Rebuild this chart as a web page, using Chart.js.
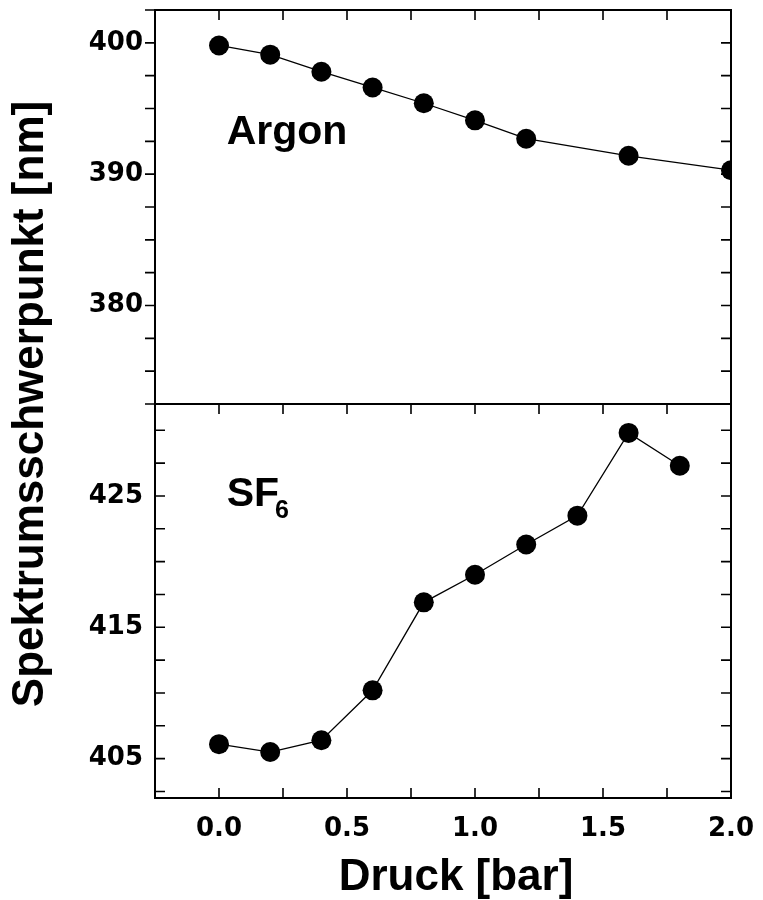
<!DOCTYPE html>
<html lang="de">
<head>
<meta charset="utf-8">
<title>Spektrumsschwerpunkt</title>
<script src="https://cdn.jsdelivr.net/npm/chart.js@4.4.0/dist/chart.umd.min.js"></script>
<style>
  html, body { margin: 0; padding: 0; background: #fff; }
  #wrap { width: 763px; height: 900px; }
</style>
</head>
<body>
<div id="wrap"><canvas id="chartCanvas" width="763" height="900"></canvas></div>
<script>
// Messwerte: Druck in bar, Schwerpunkt in nm
const druckArgon = [0.0, 0.2, 0.4, 0.6, 0.8, 1.0, 1.2, 1.6, 2.0];
const schwerpunktArgon = [399.8, 399.1, 397.8, 396.6, 395.4, 394.1, 392.7, 391.4, 390.3];

const druckSF6 = [0.0, 0.2, 0.4, 0.6, 0.8, 1.0, 1.2, 1.4, 1.6, 1.8];
const schwerpunktSF6 = [406.1, 405.5, 406.4, 410.2, 416.9, 419.0, 421.3, 423.5, 429.8, 427.3];

// beschriftete Achsenwerte
const druckTicks = [0.0, 0.5, 1.0, 1.5, 2.0];
const argonTicks = [380, 390, 400];
const sf6Ticks = [405, 415, 425];

const schrift = "'Liberation Sans', Arial, Helvetica, sans-serif";
const zahlenSchrift = "'DejaVu Sans', 'Liberation Sans', sans-serif";

// Teilstriche in festen Schritten (auch unbeschriftete)
function teilung(von, bis, schritt) {
    const werte = [];
    const n = Math.round((bis - von) / schritt);
    for (let i = 0; i <= n; i++) werte.push(von + i * schritt);
    return werte;
}

// y-Achsen: feste Breite, kein Überstand der Randbeschriftung
function yBreite(s) {
    s.width = 155;
    s.paddingTop = 0;
    s.paddingBottom = 0;
}

// Rahmen und nach innen/außen zeigende Teilstriche
const rahmen = {
    id: 'rahmen',
    afterDraw(chart) {
        const { ctx, chartArea, scales } = chart;
        const L = chartArea.left, R = chartArea.right;
        const oben = scales.yTop, unten = scales.yBottom, x = scales.x;
        const len = 10;
        ctx.save();
        ctx.strokeStyle = '#000';
        ctx.lineWidth = 1.6;
        ctx.beginPath();
        x.ticks.forEach(t => {
            const px = x.getPixelForValue(t.value);
            ctx.moveTo(px, oben.top); ctx.lineTo(px, oben.top + len);
            ctx.moveTo(px, unten.top); ctx.lineTo(px, unten.top + len);
            ctx.moveTo(px, unten.bottom); ctx.lineTo(px, unten.bottom - len);
        });
        oben.ticks.forEach(t => {
            const py = oben.getPixelForValue(t.value);
            ctx.moveTo(L - len, py); ctx.lineTo(L, py);
            ctx.moveTo(R - len, py); ctx.lineTo(R, py);
        });
        unten.ticks.forEach(t => {
            const py = unten.getPixelForValue(t.value);
            ctx.moveTo(L, py); ctx.lineTo(L + len, py);
            ctx.moveTo(R - len, py); ctx.lineTo(R, py);
        });
        ctx.stroke();

        ctx.lineWidth = 2;
        [oben, unten].forEach(s => ctx.strokeRect(L, s.top, R - L, s.bottom - s.top));
        ctx.restore();
    }
};

// Gasbezeichnungen und Achsentitel
const beschriftung = {
    id: 'beschriftung',
    afterDraw(chart) {
        const { ctx, chartArea, scales } = chart;
        const x = scales.x;
        ctx.save();
        ctx.fillStyle = '#000';
        ctx.textBaseline = 'alphabetic';
        ctx.textAlign = 'left';

        ctx.font = 'bold 41px ' + schrift;
        const ax = x.getPixelForValue(0.03);
        ctx.fillText('Argon', ax, scales.yTop.getPixelForValue(392.3));

        const sy = scales.yBottom.getPixelForValue(424.2);
        ctx.fillText('SF', ax, sy);
        const w = ctx.measureText('SF').width;
        ctx.font = 'bold 25px ' + schrift;
        ctx.fillText('6', ax + w - 4, sy + 12);

        ctx.font = 'bold 44px ' + schrift;
        ctx.textAlign = 'center';
        ctx.fillText('Druck [bar]', (chartArea.left + chartArea.right) / 2 + 13, 890);

        ctx.translate(43, (chartArea.top + chartArea.bottom) / 2);
        ctx.rotate(-Math.PI / 2);
        ctx.fillText('Spektrumsschwerpunkt [nm]', 0, 0);
        ctx.restore();
    }
};

const zahlenFont = { family: zahlenSchrift, size: 26, weight: 'bold' };

const ctx = document.getElementById('chartCanvas').getContext('2d');
const chart = new Chart(ctx, {
    type: 'line',
    data: {
        datasets: [{
            label: 'Argon',
            data: druckArgon.map((d, i) => ({ x: d, y: schwerpunktArgon[i] })),
            yAxisID: 'yTop',
            borderColor: '#000',
            borderWidth: 1.3,
            pointRadius: 10,
            pointBackgroundColor: '#000',
            pointBorderWidth: 0,
            tension: 0,
            clip: 0
        }, {
            label: 'SF6',
            data: druckSF6.map((d, i) => ({ x: d, y: schwerpunktSF6[i] })),
            yAxisID: 'yBottom',
            borderColor: '#000',
            borderWidth: 1.3,
            pointRadius: 10,
            pointBackgroundColor: '#000',
            pointBorderWidth: 0,
            tension: 0,
            clip: 0
        }]
    },
    options: {
        responsive: false,
        animation: false,
        devicePixelRatio: 1,
        layout: { padding: { top: 10, right: 32, left: 0, bottom: 0 } },
        plugins: { legend: { display: false }, tooltip: { enabled: false } },
        scales: {
            x: {
                type: 'linear',
                min: -0.25,
                max: 2.0,
                afterBuildTicks: s => { s.ticks = teilung(-0.25, 2.0, 0.25).map(v => ({ value: v })); },
                afterFit: s => { s.height = 102; s.paddingLeft = 0; s.paddingRight = 0; },
                ticks: {
                    autoSkip: false,
                    maxRotation: 0,
                    padding: 8,
                    color: '#000',
                    font: zahlenFont,
                    callback: v => druckTicks.includes(v) ? v.toFixed(1) : ''
                },
                grid: { display: false },
                border: { display: false }
            },
            // unteres Feld zuerst, damit SF6 unten im Stapel liegt
            yBottom: {
                type: 'linear',
                position: 'left',
                stack: 'panels',
                stackWeight: 1,
                min: 402,
                max: 432,
                afterBuildTicks: s => { s.ticks = teilung(402.5, 430, 2.5).map(v => ({ value: v })); },
                afterFit: yBreite,
                ticks: {
                    autoSkip: false,
                    padding: 4,
                    color: '#000',
                    font: zahlenFont,
                    callback: v => sf6Ticks.includes(v) ? String(v) : ''
                },
                grid: { display: false },
                border: { display: false }
            },
            yTop: {
                type: 'linear',
                position: 'left',
                stack: 'panels',
                stackWeight: 1,
                min: 372.5,
                max: 402.5,
                afterBuildTicks: s => { s.ticks = teilung(372.5, 402.5, 2.5).map(v => ({ value: v })); },
                afterFit: yBreite,
                ticks: {
                    autoSkip: false,
                    padding: 4,
                    color: '#000',
                    font: zahlenFont,
                    callback: v => argonTicks.includes(v) ? String(v) : ''
                },
                grid: { display: false },
                border: { display: false }
            }
        }
    },
    plugins: [rahmen, beschriftung]
});
</script>
</body>
</html>
